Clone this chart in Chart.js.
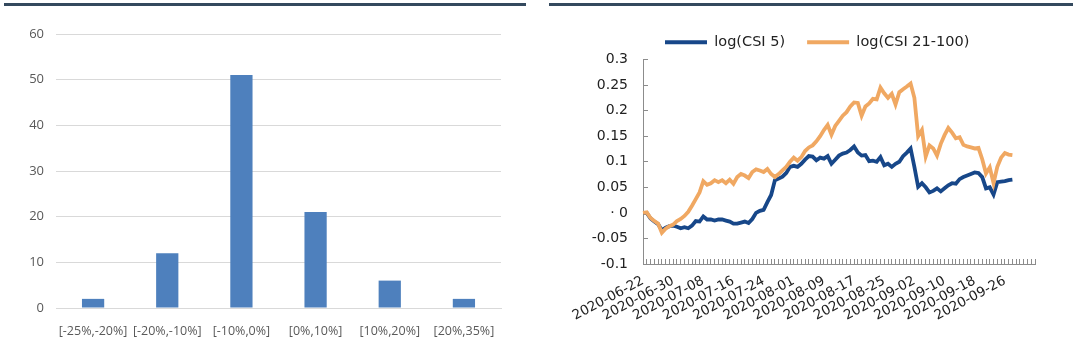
<!DOCTYPE html>
<html>
<head>
<meta charset="utf-8">
<script src="https://cdn.jsdelivr.net/npm/chart.js@4.4.0/dist/chart.umd.min.js"></script>
<style>
  html, body { margin: 0; padding: 0; background: #fff; }
  body { width: 1080px; height: 351px; position: relative; overflow: hidden; }
  .rule { position: absolute; top: 3px; height: 3px; background: #34495e; }
  .panel { position: absolute; top: 0; width: 540px; height: 351px; }
</style>
</head>
<body>
<div class="rule" style="left:4px;width:522px"></div>
<div class="rule" style="left:549px;width:524px"></div>
<div class="panel" style="left:0"><canvas id="histChart" width="540" height="351"></canvas></div>
<div class="panel" style="left:540px"><canvas id="logChart" width="540" height="351"></canvas></div>

<script>
// --- left: distribution of returns ---
const bins = ['[-25%,-20%]', '[-20%,-10%]', '[-10%,0%]', '[0%,10%]', '[10%,20%]', '[20%,35%]'];
const binCounts = [2, 12, 51, 21, 6, 2];

// --- right: log index levels, one value per calendar day from 2020-06-22 ---
const firstDay = '2020-06-22';
const dayCount = 105;
const dateTicks = ['2020-06-22', '2020-06-30', '2020-07-08', '2020-07-16', '2020-07-24', '2020-08-01', '2020-08-09',
    '2020-08-17', '2020-08-25', '2020-09-02', '2020-09-10', '2020-09-18', '2020-09-26'];

const csi5 = [
    0.000, 0.000, -0.011, -0.017, -0.022, -0.034, -0.029, -0.026, -0.025, -0.027,
    -0.030, -0.028, -0.030, -0.025, -0.016, -0.017, -0.007, -0.013, -0.013, -0.015,
    -0.013, -0.013, -0.015, -0.017, -0.021, -0.021, -0.019, -0.017, -0.020, -0.012,
    0.000, 0.004, 0.006, 0.021, 0.035, 0.064, 0.067, 0.071, 0.078, 0.090,
    0.092, 0.090, 0.096, 0.104, 0.111, 0.110, 0.103, 0.108, 0.106, 0.111,
    0.096, 0.104, 0.112, 0.116, 0.118, 0.123, 0.130, 0.118, 0.112, 0.113,
    0.101, 0.102, 0.100, 0.109, 0.093, 0.096, 0.090, 0.096, 0.100, 0.111,
    0.118, 0.126, 0.090, 0.051, 0.058, 0.050, 0.040, 0.043, 0.048, 0.042,
    0.048, 0.054, 0.058, 0.057, 0.066, 0.070, 0.073, 0.076, 0.079, 0.078,
    0.070, 0.048, 0.050, 0.036, 0.060, 0.061, 0.062, 0.064, 0.065
];
const csi21to100 = [
    0.000, 0.001, -0.010, -0.016, -0.021, -0.039, -0.031, -0.026, -0.023, -0.016,
    -0.012, -0.006, 0.002, 0.014, 0.027, 0.040, 0.062, 0.055, 0.058, 0.064,
    0.060, 0.064, 0.058, 0.065, 0.057, 0.070, 0.076, 0.073, 0.068, 0.080,
    0.085, 0.083, 0.080, 0.086, 0.076, 0.070, 0.076, 0.083, 0.090, 0.100,
    0.108, 0.102, 0.109, 0.121, 0.128, 0.132, 0.140, 0.150, 0.162, 0.172,
    0.153, 0.170, 0.180, 0.190, 0.197, 0.208, 0.216, 0.215, 0.190, 0.208,
    0.214, 0.223, 0.222, 0.245, 0.234, 0.225, 0.233, 0.212, 0.236, 0.242,
    0.247, 0.253, 0.225, 0.150, 0.162, 0.110, 0.132, 0.126, 0.112, 0.135,
    0.152, 0.166, 0.157, 0.146, 0.148, 0.133, 0.130, 0.128, 0.126, 0.127,
    0.105, 0.077, 0.089, 0.058, 0.090, 0.108, 0.117, 0.114, 0.113
];

const days = [];
const t0 = new Date(firstDay + 'T00:00:00Z').getTime();
for (let i = 0; i < dayCount; i++) {
    days.push(new Date(t0 + i * 86400000).toISOString().slice(0, 10));
}

function initHistChart() {
    const ctx = document.getElementById('histChart').getContext('2d');
    const grey = '#595959';
    new Chart(ctx, {
        type: 'bar',
        data: { labels: bins, datasets: [{ data: binCounts, backgroundColor: '#4e80bd', barPercentage: 0.3, categoryPercentage: 1 }] },
        options: {
            responsive: false, animation: false,
            layout: { padding: { left: 0, right: 39, top: 34, bottom: 0 } },
            plugins: { legend: { display: false }, tooltip: { enabled: false } },
            scales: {
                x: {
                    grid: { display: false },
                    border: { display: true, color: '#d9d9d9' },
                    ticks: { autoSkip: false, color: grey, padding: 8, font: { family: 'Open Sans', size: 12.5 }, maxRotation: 0 },
                    afterFit: (s) => { s.height = 43; }
                },
                y: {
                    min: 0, max: 60,
                    grid: { color: '#d9d9d9', drawTicks: false },
                    border: { display: false },
                    ticks: { stepSize: 10, color: grey, padding: 12, font: { family: 'Open Sans', size: 13 } },
                    afterFit: (s) => { s.width = 56; }
                }
            }
        }
    });
}

function initLogChart() {
    const ctx = document.getElementById('logChart').getContext('2d');
    const axisGrey = '#8c8c8c';
    const font = 'DejaVu Sans';
    new Chart(ctx, {
        type: 'line',
        data: {
            labels: days,
            datasets: [
                { label: 'log(CSI 5)', data: csi5, borderColor: '#174789', backgroundColor: '#174789', borderWidth: 3.8, pointRadius: 0, order: 1 },
                { label: 'log(CSI 21-100)', data: csi21to100, borderColor: '#f0a862', backgroundColor: '#f0a862', borderWidth: 3.8, pointRadius: 0, order: 0 }
            ]
        },
        options: {
            responsive: false, animation: false,
            layout: { padding: { left: 0, right: 45, top: 13, bottom: 0 } },
            plugins: {
                tooltip: { enabled: false },
                legend: {
                    position: 'top',
                    fullSize: false,
                    align: 'start',
                    labels: {
                        boxWidth: 42, boxHeight: 4, padding: 22, color: '#222',
                        font: { family: font, size: 14.5 },
                        sort: (a, b) => a.datasetIndex - b.datasetIndex,
                        generateLabels: (chart) => Chart.defaults.plugins.legend.labels.generateLabels(chart)
                            .map(l => ({ ...l, lineWidth: 0, fillStyle: l.strokeStyle }))
                    }
                }
            },
            scales: {
                x: {
                    offset: false,
                    grid: { drawOnChartArea: false, drawTicks: true, tickLength: -5, color: axisGrey },
                    border: { display: true, color: axisGrey },
                    ticks: {
                        autoSkip: false, minRotation: 28, maxRotation: 28, padding: 14, color: '#222',
                        font: { family: font, size: 13.5 },
                        callback: (v, i) => dateTicks.includes(days[i]) ? days[i] : ''
                    },
                    afterFit: (s) => { s.height = 87; }
                },
                y: {
                    min: -0.1, max: 0.3,
                    grid: { drawOnChartArea: false, drawTicks: true, tickLength: -5, color: axisGrey },
                    border: { display: true, color: axisGrey },
                    ticks: {
                        stepSize: 0.05, padding: 20, color: '#222', font: { family: font, size: 14 },
                        callback: (v) => Math.abs(v) < 1e-9 ? '· 0' : String(parseFloat(v.toFixed(2)))
                    },
                    afterFit: (s) => { s.width = 103; }
                }
            }
        }
    });
}

document.addEventListener('DOMContentLoaded', () => {
    initHistChart();
    initLogChart();
});
</script>
</body>
</html>
